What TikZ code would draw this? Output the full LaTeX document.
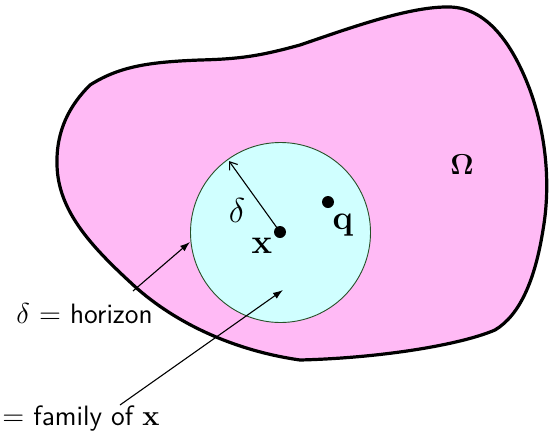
\documentclass[tikz,border=0pt]{standalone}
\usetikzlibrary{arrows.meta}
\definecolor{blobpink}{RGB}{255,186,245}
\definecolor{famcyan}{RGB}{208,255,255}
\definecolor{rimgreen}{RGB}{40,80,40}
\tikzset{
  blob/.style={draw=black,line width=1.6pt,fill=blobpink,line join=round},
  fam/.style={draw=rimgreen,line width=0.45pt,fill=famcyan},
  ptr/.style={line width=0.55pt,-{Latex[length=5pt,width=3.5pt]}},
  rad/.style={line width=0.55pt,-{Straight Barb[length=3.5pt,width=5pt]}},
  dotpt/.style={circle,fill=black,inner sep=0pt,minimum size=6pt},
  lbl/.style={inner sep=0pt,font=\fontsize{16}{18}\selectfont},
  txt/.style={inner sep=0pt,font=\fontsize{14}{17}\selectfont\sffamily},
}
\begin{document}
\begin{tikzpicture}[x=0.5pt,y=-0.5pt]
\useasboundingbox (0,0) rectangle (558,445);
\path[blob] (90,85) .. controls (120,66) and (150,62) .. (200,60)
  .. controls (240,59) and (260,56) .. (300,45)
  .. controls (350,28) and (410,6) .. (450,7)
  .. controls (490,8) and (515,50) .. (530,90)
  .. controls (548,140) and (550,190) .. (543,230)
  .. controls (535,280) and (520,315) .. (495,330)
  .. controls (460,345) and (380,358) .. (300,360)
  .. controls (230,350) and (170,320) .. (130,282)
  .. controls (90,245) and (58,210) .. (57,165)
  .. controls (56,130) and (70,105) .. (90,85) -- cycle;
\coordinate (c) at (280.5,232.5);
\path[fam] (c) circle[radius=45pt];
\node[dotpt] (x) at (280,232) {};
\node[dotpt] (q) at (328,202) {};
\coordinate (redge) at (229,161);
\coordinate (hedge) at (190,242);
\coordinate (htail) at (133,291);
\coordinate (fhead) at (283,290);
\coordinate (ftail) at (120,405);
\draw[rad] (x.center) -- (redge);
\draw[ptr] (htail) -- (hedge);
\draw[ptr] (ftail) -- (fhead);
\node[lbl,font=\fontsize{17}{19}\selectfont] (dl) at (237,210) {$\delta$};
\node[lbl] (xl) at (262,246) {$\mathbf{x}$};
\node[lbl] (ql) at (343,225) {$\mathbf{q}$};
\node[lbl,font=\fontsize{14}{16}\selectfont] (om) at (462,165) {$\mathbf{\Omega}$};
\node[txt,anchor=base west] (hz) at (16,323) {$\delta$ $=$ horizon};
\node[txt,anchor=base west] (fm) at (2,425) {$=$ family of $\mathbf{x}$};
\end{tikzpicture}
\end{document}
